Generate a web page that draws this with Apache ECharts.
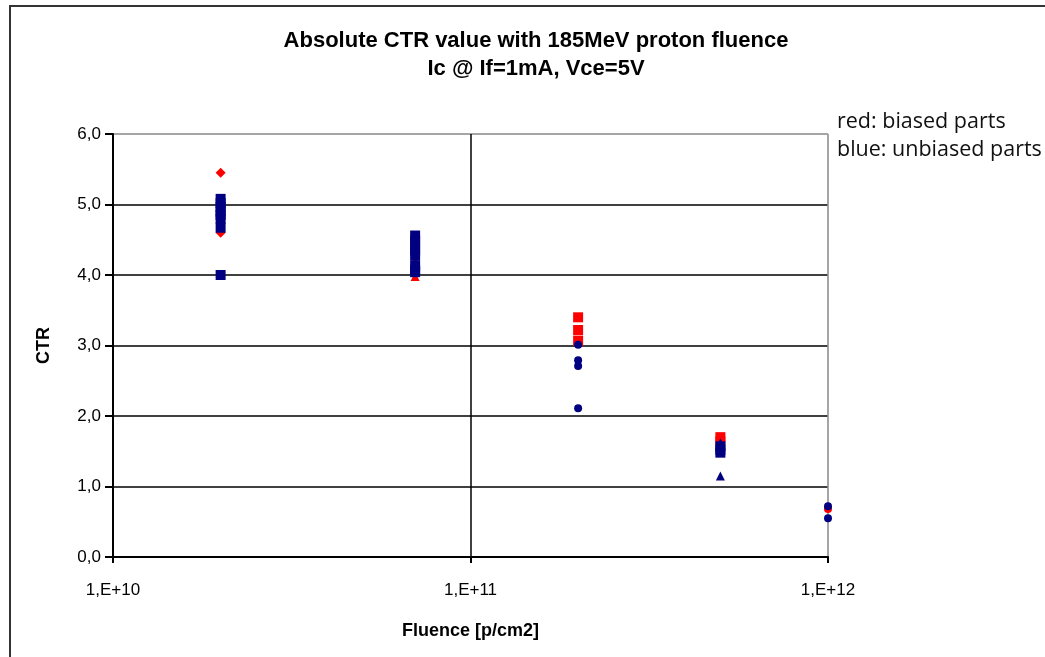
<!DOCTYPE html>
<html>
<head>
<meta charset="utf-8">
<script src="https://cdn.jsdelivr.net/npm/echarts@6/dist/echarts.min.js"></script>
<style>html,body{margin:0;padding:0;background:#fff}#c{width:1045px;height:657px}</style>
</head>
<body>
<div id="c"></div>
<script>
// Fluence values [p/cm2] and CTR readings per marker group
var xTickLabels = ['1,E+10', '1,E+11', '1,E+12'];
var yTickLabels = ['0,0', '1,0', '2,0', '3,0', '4,0', '5,0', '6,0'];

// biased parts (red)
var redDiamond = [[2e10, 5.45], [2e10, 4.74], [2e10, 4.6]];
var redTriangle = [[7e10, 3.98], [7e10, 4.21]];
var redSquare = [[2e11, 3.40], [2e11, 3.22], [2e11, 3.07], [5e11, 1.70], [5e11, 1.64]];
var redCircle = [[1e12, 0.68]];

// unbiased parts (blue)
var blueSquare = [[2e10, 5.08], [2e10, 5.02], [2e10, 4.96], [2e10, 4.90], [2e10, 4.85], [2e10, 4.80],
  [2e10, 4.67], [2e10, 4.00],
  [7e10, 4.56], [7e10, 4.49], [7e10, 4.42], [7e10, 4.35], [7e10, 4.28],
  [7e10, 4.14], [7e10, 4.07], [7e10, 4.04],
  [5e11, 1.57], [5e11, 1.52], [5e11, 1.48]];
var blueCircle = [[2e11, 3.01], [2e11, 2.79], [2e11, 2.71], [2e11, 2.11], [1e12, 0.72], [1e12, 0.55]];
var blueTriangle = [[5e11, 1.62], [5e11, 1.15]];

var RED = '#ff0000', BLUE = '#000080';
function sc(name, data, sym, size, color, z) {
  return {name: name, type: 'scatter', data: data, symbol: sym, symbolSize: size,
    itemStyle: {color: color, opacity: 1}, z: z, silent: true};
}
var labelFont = "'Liberation Sans',Arial,sans-serif";
var chart = echarts.init(document.getElementById('c'));
chart.setOption({
  animation: false,
  title: {
    text: 'Absolute CTR value with 185MeV proton fluence\nIc @ If=1mA, Vce=5V',
    left: 531, top: 22, textAlign: 'center',
    textStyle: {fontFamily: labelFont, fontWeight: 'bold', fontSize: 22, color: '#000', lineHeight: 28}
  },
  graphic: [
    {type: 'rect', shape: {x: 10, y: 6, width: 1100, height: 700}, style: {fill: 'none', stroke: '#333', lineWidth: 2}, silent: true},
    {type: 'text', left: 837, top: 108, style: {text: 'red: biased parts\nblue: unbiased parts', fontFamily: "'Open Sans','Noto Sans',sans-serif", fontSize: 21.5, lineHeight: 28, fill: '#111'}}
  ],
  grid: {left: 113, right: 217, top: 134, bottom: 100, show: true, borderColor: '#999', borderWidth: 1, backgroundColor: 'transparent'},
  xAxis: {
    type: 'log', logBase: 10, min: 1e10, max: 1e12,
    name: 'Fluence [p/cm2]', nameLocation: 'middle', nameGap: 65,
    nameTextStyle: {fontFamily: labelFont, fontWeight: 'bold', fontSize: 18, color: '#000'},
    axisLine: {onZero: false, lineStyle: {color: '#000', width: 2}},
    axisTick: {show: true, length: 6, lineStyle: {color: '#000', width: 2}},
    axisLabel: {fontFamily: labelFont, fontSize: 17, color: '#000', margin: 25,
      formatter: function (v) { var e = Math.round(Math.log10(v)); return xTickLabels[e - 10]; }},
    splitLine: {show: true, lineStyle: {color: ['#000', '#000', '#999'], width: 1.5}},
    minorTick: {show: false}
  },
  yAxis: {
    type: 'value', min: 0, max: 6, interval: 1,
    name: 'CTR', nameLocation: 'middle', nameGap: 60, nameRotate: 90,
    nameTextStyle: {fontFamily: labelFont, fontWeight: 'bold', fontSize: 18, color: '#000'},
    axisLine: {show: true, lineStyle: {color: '#000', width: 2}},
    axisTick: {show: true, length: 8, lineStyle: {color: '#000', width: 2}},
    axisLabel: {fontFamily: labelFont, fontSize: 17, color: '#000', margin: 12,
      formatter: function (v) { return yTickLabels[Math.round(v)]; }},
    splitLine: {show: true, lineStyle: {color: ['#000', '#000', '#000', '#000', '#000', '#000', '#999'], width: 1.5}}
  },
  series: [
    sc('biased diamond', redDiamond, 'diamond', 10, RED, 3),
    sc('biased triangle', redTriangle, 'triangle', 9, RED, 3),
    sc('biased square', redSquare, 'rect', 10, RED, 3),
    sc('biased circle', redCircle, 'circle', 8, RED, 3),
    sc('unbiased square', blueSquare, 'rect', 10, BLUE, 4),
    sc('unbiased circle', blueCircle, 'circle', 8, BLUE, 4),
    sc('unbiased triangle', blueTriangle, 'triangle', 9, BLUE, 4)
  ]
});
</script>
</body>
</html>
